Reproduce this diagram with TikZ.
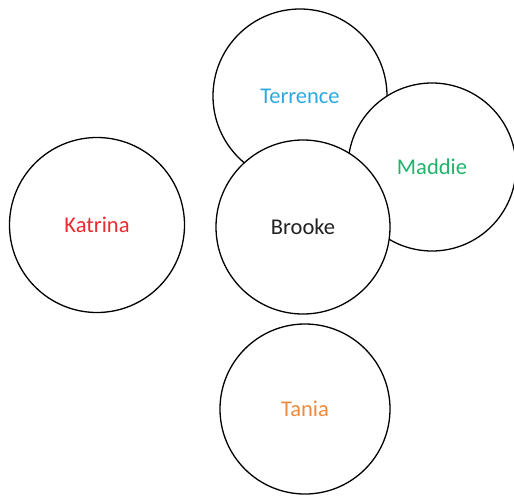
\documentclass[tikz,border=0pt]{standalone}
\usepackage{fontspec}
\setmainfont{Carlito}
\definecolor{cterr}{HTML}{2DA9E1}
\definecolor{cmad}{HTML}{22B36B}
\definecolor{ckat}{HTML}{EC2B30}
\definecolor{ctan}{HTML}{F08A3C}
\definecolor{cbro}{HTML}{222222}
\begin{document}
\begin{tikzpicture}[x=1pt,y=-1pt,
  person/.style={circle,draw=black,line width=1.3pt,fill=white,font=\fontsize{22.5}{26}\selectfont}]
\useasboundingbox (0,0) rectangle (514,496);
\node[person,minimum size=174pt,text=cterr] (terrence) at (300,96) {Terrence};
\node[person,minimum size=168pt,text=cmad] (maddie) at (432,167) {Maddie};
\node[person,minimum size=174pt,text=cbro] (brooke) at (303,227) {Brooke};
\node[person,minimum size=175pt,text=ckat] (katrina) at (97,225) {Katrina};
\node[person,minimum size=170pt,text=ctan] (tania) at (305,409) {Tania};
\end{tikzpicture}
\end{document}
